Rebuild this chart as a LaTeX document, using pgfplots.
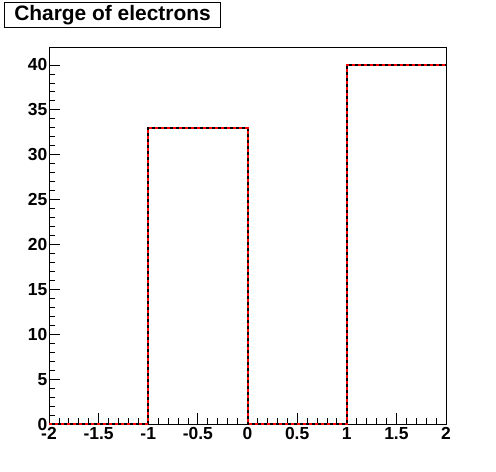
\documentclass[border=0pt]{standalone}
\usepackage{fontspec}
\setmainfont{Liberation Sans}
\usepackage{pgfplots}
\pgfplotsset{compat=1.18}

\begin{document}
\begin{tikzpicture}
\begin{axis}[
    scale only axis,
    width=397bp, height=377bp,
    xmin=-2, xmax=2,
    ymin=0, ymax=42,
    xtick={-2,-1.5,-1,-0.5,0,0.5,1,1.5,2},
    xticklabels={-2,-1.5,-1,-0.5,0,0.5,1,1.5,2},
    ytick={0,5,10,15,20,25,30,35,40},
    minor x tick num=4,
    minor y tick num=4,
    tick align=inside,
    xtick pos=bottom, ytick pos=left,
    major tick length=11bp,
    minor tick length=6bp,
    axis line style={line width=1bp},
    every tick/.style={black, line width=0.8bp},
    /pgf/number format/assume math mode=true,
    ticklabel style={font=\bfseries\fontsize{17.5}{20}\selectfont},
    yticklabel style={inner xsep=1.5bp},
    xticklabel style={inner ysep=3.5bp},
    clip=false,
]
\coordinate (o) at (rel axis cs:0,0);
% bins of width 1 from -2 to 2
\addplot[const plot, black, line width=2bp] coordinates {
    (-2,0) (-1,33) (0,0) (1,40) (2,40)
};
\addplot[const plot, red, line width=2bp, dash pattern=on 3bp off 3bp] coordinates {
    (-2,0) (-1,33) (0,0) (1,40) (2,40)
};
\end{axis}
\node[draw, line width=1bp, fill=white, minimum width=215bp, minimum height=25bp,
      inner sep=0pt, font=\bfseries\fontsize{21}{24}\selectfont]
    at ([shift={(63.5bp,408.5bp)}]o) {Charge of electrons};
\pgfresetboundingbox
\path ([shift={(-49bp,-48bp)}]o) rectangle ++(496bp,472bp);
\end{tikzpicture}
\end{document}
